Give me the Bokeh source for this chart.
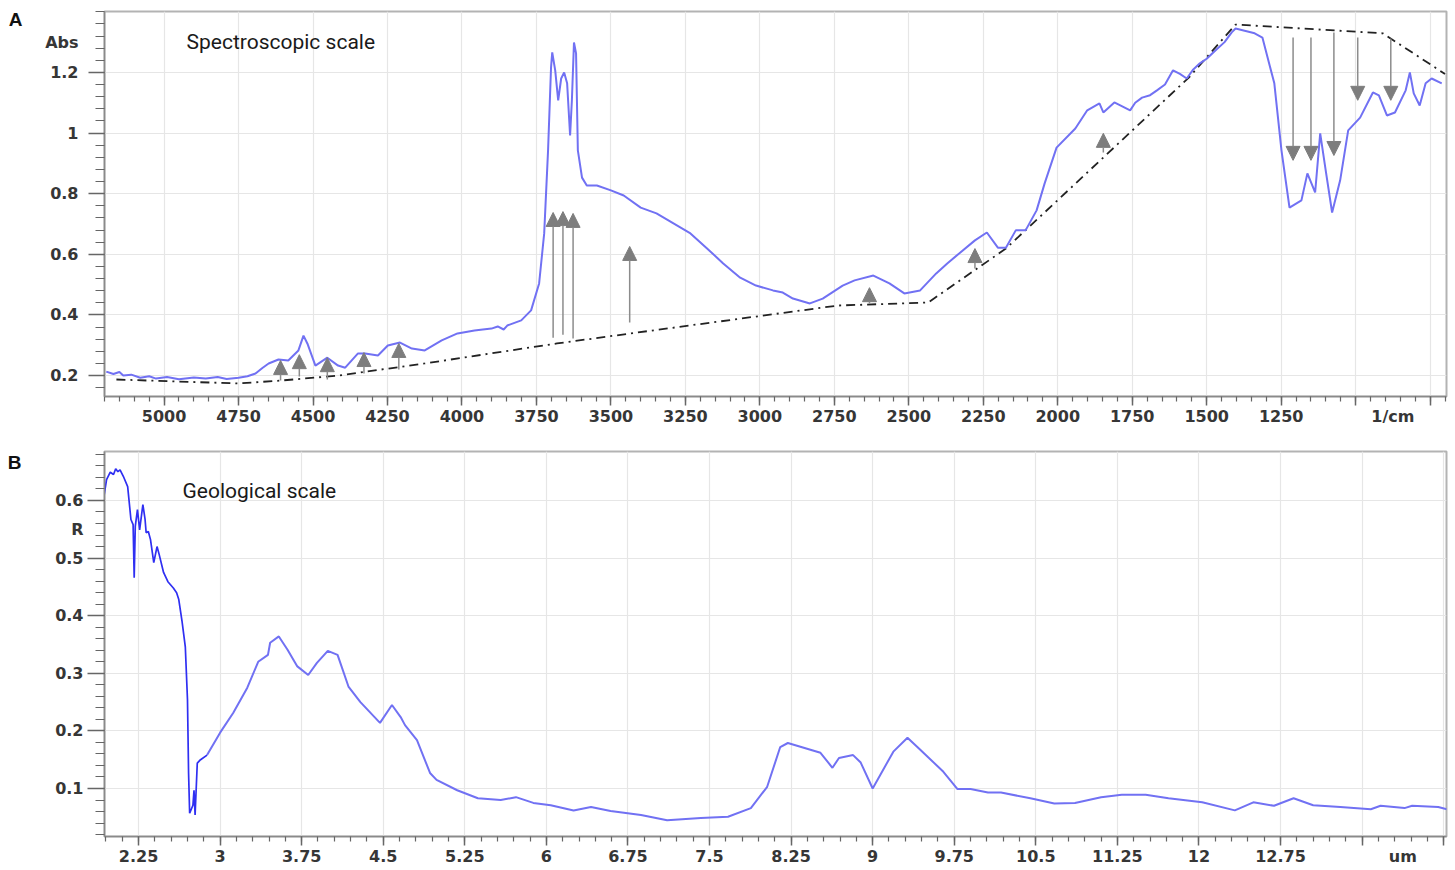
from bokeh.plotting import figure
from bokeh.layouts import column
from bokeh.models import (Range1d, FixedTicker, Label, Arrow, NormalHead,
                          ColumnDataSource, LinearAxis)
from bokeh.embed import file_html
from bokeh.resources import INLINE

# ---------------- Panel A : spectroscopic scale (absorbance vs 1/cm) -------------
a_wn = [5194, 5170, 5150, 5137, 5110, 5080, 5050, 5027, 4990, 4950, 4900, 4860, 4820,
        4790, 4750, 4720, 4693, 4670, 4649, 4616, 4583, 4549, 4532, 4519, 4492, 4452,
        4416, 4392, 4349, 4325, 4282, 4249, 4208, 4168, 4125, 4068, 4015, 3958, 3930,
        3901, 3880, 3860, 3848, 3801, 3768, 3741, 3724, 3711, 3701, 3697, 3687, 3677,
        3667, 3657, 3647, 3637, 3631, 3624, 3617, 3611, 3597, 3581, 3547, 3500, 3457,
        3400, 3347, 3290, 3233, 3180, 3123, 3066, 3013, 2956, 2923, 2889, 2832, 2789,
        2722, 2682, 2619, 2565, 2515, 2462, 2408, 2371, 2331, 2278, 2238, 2201, 2174,
        2141, 2108, 2071, 2044, 2004, 1941, 1901, 1860, 1847, 1810, 1757, 1740, 1717,
        1690, 1667, 1640, 1613, 1590, 1567, 1545, 1523, 1500, 1470, 1440, 1416, 1403,
        1339, 1313, 1273, 1249, 1222, 1182, 1162, 1136, 1119, 1099, 1079, 1052, 1025,
        985, 942, 922, 895, 868, 832, 818, 805, 785, 765, 745, 711]
a_abs = [0.213, 0.205, 0.212, 0.200, 0.203, 0.193, 0.198, 0.190, 0.195, 0.188, 0.194,
         0.190, 0.195, 0.189, 0.193, 0.198, 0.207, 0.225, 0.240, 0.253, 0.250, 0.283,
         0.332, 0.306, 0.233, 0.259, 0.233, 0.226, 0.273, 0.273, 0.266, 0.299, 0.309,
         0.289, 0.283, 0.316, 0.339, 0.349, 0.352, 0.355, 0.362, 0.352, 0.365, 0.382,
         0.415, 0.504, 0.669, 0.943, 1.216, 1.266, 1.207, 1.108, 1.180, 1.200, 1.164,
         0.992, 1.108, 1.299, 1.263, 0.943, 0.853, 0.827, 0.827, 0.811, 0.794, 0.754,
         0.735, 0.702, 0.669, 0.622, 0.570, 0.523, 0.497, 0.481, 0.474, 0.454, 0.438,
         0.454, 0.497, 0.514, 0.530, 0.504, 0.471, 0.481, 0.537, 0.570, 0.603, 0.646,
         0.672, 0.622, 0.622, 0.679, 0.679, 0.745, 0.834, 0.952, 1.015, 1.075, 1.098,
         1.068, 1.101, 1.075, 1.100, 1.117, 1.125, 1.141, 1.160, 1.207, 1.195, 1.180,
         1.210, 1.230, 1.245, 1.273, 1.300, 1.332, 1.345, 1.329, 1.315, 1.164, 0.943,
         0.754, 0.778, 0.867, 0.804, 0.999, 0.867, 0.738, 0.844, 1.009, 1.051, 1.134,
         1.124, 1.058, 1.068, 1.141, 1.200, 1.131, 1.091, 1.164, 1.180, 1.164]

base_wn = [5160, 4750, 4603, 4416, 4125, 3681, 3434, 2739, 2435, 2174, 1560, 1403, 909, 700]
base_abs = [0.187, 0.174, 0.184, 0.200, 0.240, 0.306, 0.339, 0.431, 0.441, 0.619, 1.183,
            1.358, 1.329, 1.195]

up_wn = [4609, 4546, 4452, 4329, 4212, 3694, 3661, 3627, 3437, 2632, 2278, 1847]
up_from = [0.184, 0.197, 0.187, 0.207, 0.220, 0.325, 0.335, 0.322, 0.375, 0.438, 0.553, 0.936]
up_to = [0.250, 0.269, 0.259, 0.276, 0.306, 0.738, 0.741, 0.735, 0.626, 0.490, 0.619, 0.999]
down_wn = [1210, 1150, 1073, 993, 882]
down_from = [1.315, 1.315, 1.332, 1.315, 1.312]
down_to = [0.910, 0.910, 0.926, 1.108, 1.108]

a_xticks = [5000, 4750, 4500, 4250, 4000, 3750, 3500, 3250, 3000, 2750, 2500, 2250,
            2000, 1750, 1500, 1250, 1000, 750]
a_xlabels = ["5000", "4750", "4500", "4250", "4000", "3750", "3500", "3250", "3000",
             "2750", "2500", "2250", "2000", "1750", "1500", "1250", "", ""]
a_yticks = [0.2, 0.4, 0.6, 0.8, 1.0, 1.2]
a_ylabels = ["0.2", "0.4", "0.6", "0.8", "1", "1.2"]
a_xunit = (875, "1/cm")
a_yunit = (1.3, "Abs")
a_title = "Spectroscopic scale"
a_tag = (1.375, "A")

# ---------------- Panel B : geological scale (R vs um) -------------------------
b1_um = [1.93, 1.956, 1.99, 2.02, 2.04, 2.06, 2.08, 2.11, 2.15, 2.18, 2.20, 2.21, 2.22,
         2.24, 2.26, 2.29, 2.31, 2.32, 2.34, 2.36, 2.39, 2.42, 2.44, 2.48, 2.52, 2.57,
         2.60, 2.62, 2.65, 2.68, 2.70, 2.71, 2.72, 2.75, 2.76, 2.77, 2.79, 2.82, 2.88]
b1_r = [0.605, 0.636, 0.649, 0.645, 0.655, 0.650, 0.653, 0.642, 0.624, 0.567, 0.558,
        0.466, 0.555, 0.584, 0.549, 0.593, 0.567, 0.544, 0.546, 0.532, 0.492, 0.520,
        0.506, 0.475, 0.459, 0.448, 0.440, 0.428, 0.390, 0.346, 0.254, 0.127, 0.057,
        0.071, 0.097, 0.054, 0.144, 0.150, 0.158]
b2_um = [2.88, 3.0, 3.12, 3.25, 3.35, 3.44, 3.46, 3.54, 3.62, 3.71, 3.81, 3.89, 3.99,
         4.08, 4.18, 4.29, 4.47, 4.58, 4.66, 4.70, 4.81, 4.93, 4.99, 5.18, 5.37, 5.58,
         5.72, 5.88, 6.04, 6.25, 6.41, 6.59, 6.87, 7.11, 7.42, 7.67, 7.88, 8.03, 8.15,
         8.22, 8.52, 8.63, 8.69, 8.82, 8.89, 9.00, 9.19, 9.32, 9.44, 9.65, 9.78, 9.90,
         10.06, 10.18, 10.45, 10.67, 10.86, 11.10, 11.29, 11.51, 11.72, 12.03, 12.33,
         12.50, 12.69, 12.87, 13.05, 13.30, 13.58, 13.67, 13.89, 13.96, 14.20, 14.28]
b2_r = [0.158, 0.197, 0.231, 0.275, 0.320, 0.332, 0.353, 0.364, 0.341, 0.312, 0.297,
        0.318, 0.339, 0.332, 0.277, 0.250, 0.214, 0.245, 0.224, 0.210, 0.184, 0.127,
        0.115, 0.097, 0.083, 0.080, 0.085, 0.075, 0.071, 0.062, 0.068, 0.061, 0.054,
        0.045, 0.049, 0.051, 0.066, 0.103, 0.172, 0.179, 0.162, 0.136, 0.153, 0.158,
        0.145, 0.100, 0.164, 0.188, 0.167, 0.129, 0.099, 0.099, 0.093, 0.093, 0.083,
        0.074, 0.075, 0.085, 0.089, 0.089, 0.083, 0.076, 0.062, 0.076, 0.070, 0.083,
        0.071, 0.068, 0.064, 0.070, 0.066, 0.070, 0.068, 0.064]

b_xticks = [2.25, 3, 3.75, 4.5, 5.25, 6, 6.75, 7.5, 8.25, 9, 9.75, 10.5, 11.25, 12,
            12.75, 13.5, 14.25]
b_xlabels = ["2.25", "3", "3.75", "4.5", "5.25", "6", "6.75", "7.5", "8.25", "9",
             "9.75", "10.5", "11.25", "12", "12.75", "", ""]
b_yticks = [0.1, 0.2, 0.3, 0.4, 0.5, 0.6]
b_ylabels = ["0.1", "0.2", "0.3", "0.4", "0.5", "0.6"]
b_xunit = (13.875, "um")
b_yunit = (0.55, "R")
b_title = "Geological scale"
b_tag = (0.666, "B")

TICK_FONT = "DejaVu Sans"
TICK_SIZE = "16px"
TICK_COLOR = "#363636"
LINE_BLUE = "#7171f3"


def tick_only(ax, ticks, minor, out_major, out_minor):
    """The axis next to the frame: line + tick marks, no labels."""
    ax.ticker = FixedTicker(ticks=ticks, minor_ticks=minor)
    ax.major_label_overrides = {t: "" for t in ticks}
    ax.major_label_text_font_size = "0px"
    ax.major_label_standoff = 0
    ax.axis_line_color = "#8a8a8a"
    ax.axis_line_width = 1.5
    ax.major_tick_line_color = "#666666"
    ax.minor_tick_line_color = "#666666"
    ax.major_tick_line_width = 1.5
    ax.minor_tick_line_width = 1.2
    ax.major_tick_in = 0
    ax.minor_tick_in = 0
    ax.major_tick_out = out_major
    ax.minor_tick_out = out_minor


def label_axis(ticks, labels, standoff, font=TICK_FONT, size=TICK_SIZE,
               color=TICK_COLOR):
    """A second axis, stacked outside the first, that only carries text."""
    return LinearAxis(ticker=FixedTicker(ticks=ticks, minor_ticks=[]),
                      major_label_overrides={t: l for t, l in zip(ticks, labels)},
                      axis_line_color=None, major_tick_line_color=None,
                      minor_tick_line_color=None, major_tick_in=0, major_tick_out=0,
                      minor_tick_in=0, minor_tick_out=0,
                      major_label_standoff=standoff, major_label_text_font=font,
                      major_label_text_font_style="bold",
                      major_label_text_font_size=size,
                      major_label_text_color=color)


def frame_style(p):
    p.xgrid.grid_line_color = "#e6e6e6"
    p.ygrid.grid_line_color = "#e6e6e6"
    p.xgrid.grid_line_width = 1.2
    p.ygrid.grid_line_width = 1.2
    p.outline_line_color = "#b3b3b3"
    p.outline_line_width = 2


# ---------------- figure A ----------------
pA = figure(width=1455, height=435, output_backend="svg", toolbar_location=None,
            x_range=Range1d(5200, 695), y_range=Range1d(0.131, 1.401),
            min_border_left=98, min_border_right=9, min_border_top=11,
            min_border_bottom=39)
frame_style(pA)
tick_only(pA.below[0], a_xticks, list(range(700, 5201, 50)), 9, 5)
tick_only(pA.left[0], a_yticks, [round(0.12 + 0.04 * i, 2) for i in range(33)], 16, 9)

pA.add_layout(label_axis(a_xticks[:-2] + [a_xunit[0]],
                         a_xlabels[:-2] + [a_xunit[1]], 1), "below")
pA.add_layout(label_axis(a_yticks + [a_yunit[0]], a_ylabels + [a_yunit[1]], 10), "left")
pA.add_layout(label_axis([a_tag[0]], [a_tag[1]], 20, font="Liberation Sans",
                         size="19px", color="#111111"), "left")

pA.line(base_wn, base_abs, line_color="#222222", line_width=1.8, line_dash="9 5 2 5")
pA.line(a_wn, a_abs, line_color=LINE_BLUE, line_width=2)

up_src = ColumnDataSource(dict(x=up_wn, y0=up_from, y1=up_to))
down_src = ColumnDataSource(dict(x=down_wn, y0=down_from, y1=down_to))
for src in (up_src, down_src):
    pA.add_layout(Arrow(end=NormalHead(size=14, fill_color="#7d7d7d",
                                       line_color="#7d7d7d", line_width=1),
                        x_start="x", y_start="y0", x_end="x", y_end="y1",
                        source=src, line_color="#8c8c8c", line_width=1.5))

pA.add_layout(Label(x=82, y=355, x_units="screen", y_units="screen",
                    text=a_title, text_font="Roboto", text_font_size="21px",
                    text_color="#1a1a1a", text_align="left", text_baseline="middle"))

# ---------------- figure B ----------------
pB = figure(width=1455, height=435, output_backend="svg", toolbar_location=None,
            x_range=Range1d(1.937, 14.276), y_range=Range1d(0.0167, 0.685),
            min_border_left=104, min_border_right=9, min_border_top=16,
            min_border_bottom=34)
frame_style(pB)
tick_only(pB.below[0], b_xticks, [round(1.95 + 0.15 * i, 2) for i in range(83)], 9, 5)
tick_only(pB.left[0], b_yticks, [round(0.02 + 0.02 * i, 2) for i in range(34)], 17, 9)

pB.add_layout(label_axis(b_xticks[:-2] + [b_xunit[0]],
                         b_xlabels[:-2] + [b_xunit[1]], 1), "below")
pB.add_layout(label_axis(b_yticks + [b_yunit[0]], b_ylabels + [b_yunit[1]], 4), "left")
pB.add_layout(label_axis([b_tag[0]], [b_tag[1]], 31, font="Liberation Sans",
                         size="19px", color="#111111"), "left")

pB.line(b2_um, b2_r, line_color=LINE_BLUE, line_width=2)
pB.line(b1_um, b1_r, line_color="#2f2ff2", line_width=1.7)

pB.add_layout(Label(x=78, y=346, x_units="screen", y_units="screen",
                    text=b_title, text_font="Roboto", text_font_size="21px",
                    text_color="#1a1a1a", text_align="left", text_baseline="middle"))

layout = column(pA, pB, spacing=0)
open("out.html", "w").write(file_html(layout, INLINE))
